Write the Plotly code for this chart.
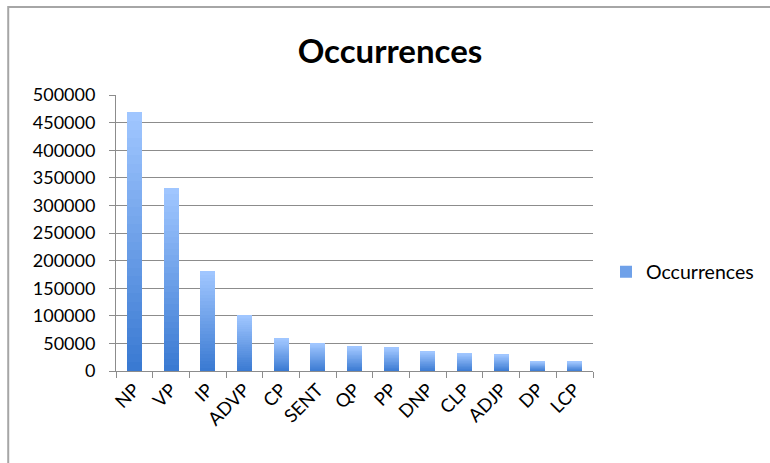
import plotly.graph_objects as go

categories = ["NP", "VP", "IP", "ADVP", "CP", "SENT", "QP", "PP", "DNP", "CLP", "ADJP", "DP", "LCP"]
occurrences = [468500, 331500, 180600, 101000, 58500, 50100, 43500, 41700, 35000, 32000, 29500, 18100, 16900]
series_name = "Occurrences"
title_text = "Occurrences"

# vertical gradient (bottom dark -> top light), drawn as stacked slices of each bar
N_SEG = 30
bottom_rgb = (0x3A, 0x7A, 0xD2)
top_rgb = (0xA0, 0xC6, 0xFF)


def mix(k):
    t = k / (N_SEG - 1)
    r, g, b = (round(bottom_rgb[i] + (top_rgb[i] - bottom_rgb[i]) * t) for i in range(3))
    return f"rgb({r},{g},{b})"


fig = go.Figure()
for k in range(N_SEG):
    fig.add_trace(go.Bar(
        x=categories,
        y=[v / N_SEG for v in occurrences],
        marker=dict(color=mix(k), line=dict(width=0)),
        name=series_name,
        legendgroup="occ",
        showlegend=(k == N_SEG // 2),
        hoverinfo="skip",
    ))

W, H = 770, 463
L, R, T, B = 116, 176, 95, 92
pw, ph = W - L - R, H - T - B


def px_x(p):
    return (p - L) / pw


def px_y(p):
    return (H - B - p) / ph


fig.update_layout(
    width=W, height=H,
    margin=dict(l=L, r=R, t=T, b=B),
    barmode="stack",
    bargap=0.59,
    paper_bgcolor="white",
    plot_bgcolor="white",
    font=dict(family="Lato, Carlito, sans-serif", size=18, color="black"),
    title=dict(text=f"<b>{title_text}</b>", x=390 / W, xanchor="center", xref="container",
               y=1 - 51 / H, yanchor="middle", yref="container", font=dict(size=33, color="black")),
    showlegend=True,
    legend=dict(x=px_x(606), xanchor="left", y=px_y(272), yanchor="middle",
                font=dict(size=19.5), bgcolor="rgba(0,0,0,0)"),
    xaxis=dict(
        type="category",
        tickangle=-45,
        ticks="outside", ticklen=6, tickcolor="#8c8c8c", tickson="boundaries",
        showline=True, linecolor="#8c8c8c", linewidth=1,
        showgrid=False,
        tickfont=dict(size=18.5),
    ),
    yaxis=dict(
        range=[0, 500000], dtick=50000, tick0=0,
        ticks="outside", ticklen=6, tickcolor="#8c8c8c",
        showline=True, linecolor="#8c8c8c", linewidth=1,
        showgrid=True, gridcolor="#8c8c8c", gridwidth=1,
        zeroline=False,
        tickformat="d",
        ticklabelstandoff=10,
        tickfont=dict(size=18),
    ),
    shapes=[dict(type="rect", xref="paper", yref="paper",
                 x0=px_x(8), x1=px_x(W + 40), y0=px_y(H + 40), y1=px_y(7),
                 line=dict(color="#a6a6a6", width=2), fillcolor="rgba(0,0,0,0)", layer="below")],
)

fig.write_html("out.html")
